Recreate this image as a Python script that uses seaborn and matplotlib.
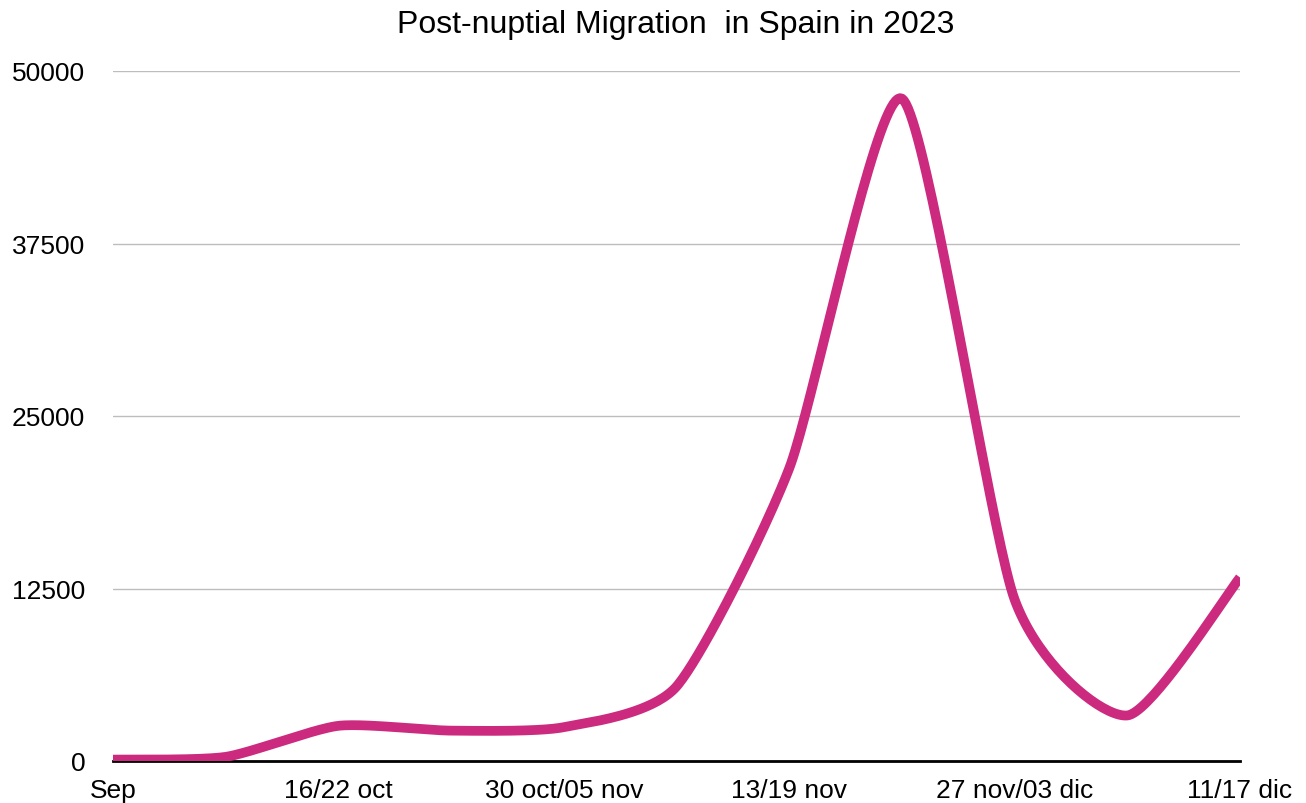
import numpy as np
import pandas as pd
import matplotlib
matplotlib.use('Agg')
import matplotlib.pyplot as plt
import seaborn as sns

# Weekly counts
weeks = ['Sep', '09/15 oct', '16/22 oct', '23/29 oct', '30 oct/05 nov',
         '06/12 nov', '13/19 nov', '20/26 nov', '27 nov/03 dic',
         '04/10 dic', '11/17 dic']
birds = [100, 300, 2550, 2200, 2450, 5400, 21200, 48000, 11700, 3300, 13300]
yticks = [0, 12500, 25000, 37500, 50000]

df = pd.DataFrame({'week': weeks, 'birds': birds})
df['pos'] = np.arange(len(df))

# Cardinal spline through the points, only to draw the smooth line
def cardinal(x, y, s=0.65, n=40):
    px = np.concatenate([[x[0]], x, [x[-1]]])
    py = np.concatenate([[y[0]], y, [y[-1]]])
    t = np.linspace(0, 1, n, endpoint=False)
    h00 = 2 * t ** 3 - 3 * t ** 2 + 1
    h10 = t ** 3 - 2 * t ** 2 + t
    h01 = -2 * t ** 3 + 3 * t ** 2
    h11 = t ** 3 - t ** 2
    xs, ys = [], []
    for i in range(1, len(px) - 2):
        for p, out in ((px, xs), (py, ys)):
            m1 = s * (p[i + 1] - p[i - 1]) / 2
            m2 = s * (p[i + 2] - p[i]) / 2
            out.extend(h00 * p[i] + h10 * m1 + h01 * p[i + 1] + h11 * m2)
    xs.append(x[-1])
    ys.append(y[-1])
    return np.array(xs), np.array(ys)

sx, sy = cardinal(df['pos'].values.astype(float), df['birds'].values.astype(float))
smooth = pd.DataFrame({'pos': sx, 'birds': sy})

sns.set_style('white')
plt.rcParams['font.family'] = ['Liberation Sans', 'DejaVu Sans']

fig = plt.figure(figsize=(13.06, 8.04), dpi=100)
ax = fig.add_axes([113 / 1306, 42 / 804, 1127 / 1306, 690 / 804])

ax.set_yticks(yticks)
ax.yaxis.grid(True, color='#bdbdbd', linewidth=1)
ax.set_axisbelow(True)

sns.lineplot(data=smooth, x='pos', y='birds', ax=ax, color='#cc2a7f',
             linewidth=7, solid_capstyle='butt', sort=False)

ax.set_xlim(0, len(weeks) - 1)
ax.set_ylim(0, 50000)
ax.set_xticks(df['pos'][::2])
ax.set_xticklabels(df['week'][::2])
ax.set_yticklabels([str(v) for v in yticks])
ax.tick_params(axis='both', length=0, labelsize=19, colors='black')
ax.tick_params(axis='y', pad=20)
ax.tick_params(axis='x', pad=12)
ax.set_xlabel('')
ax.set_ylabel('')

for s in ['top', 'right', 'left']:
    ax.spines[s].set_visible(False)
ax.spines['bottom'].set_color('black')
ax.spines['bottom'].set_linewidth(2)
ax.spines['bottom'].set_zorder(1)

fig.suptitle('Post-nuptial Migration  in Spain in 2023', fontsize=23,
             color='black', x=0.5175, y=0.988)

fig.savefig('out.png', dpi=100)
